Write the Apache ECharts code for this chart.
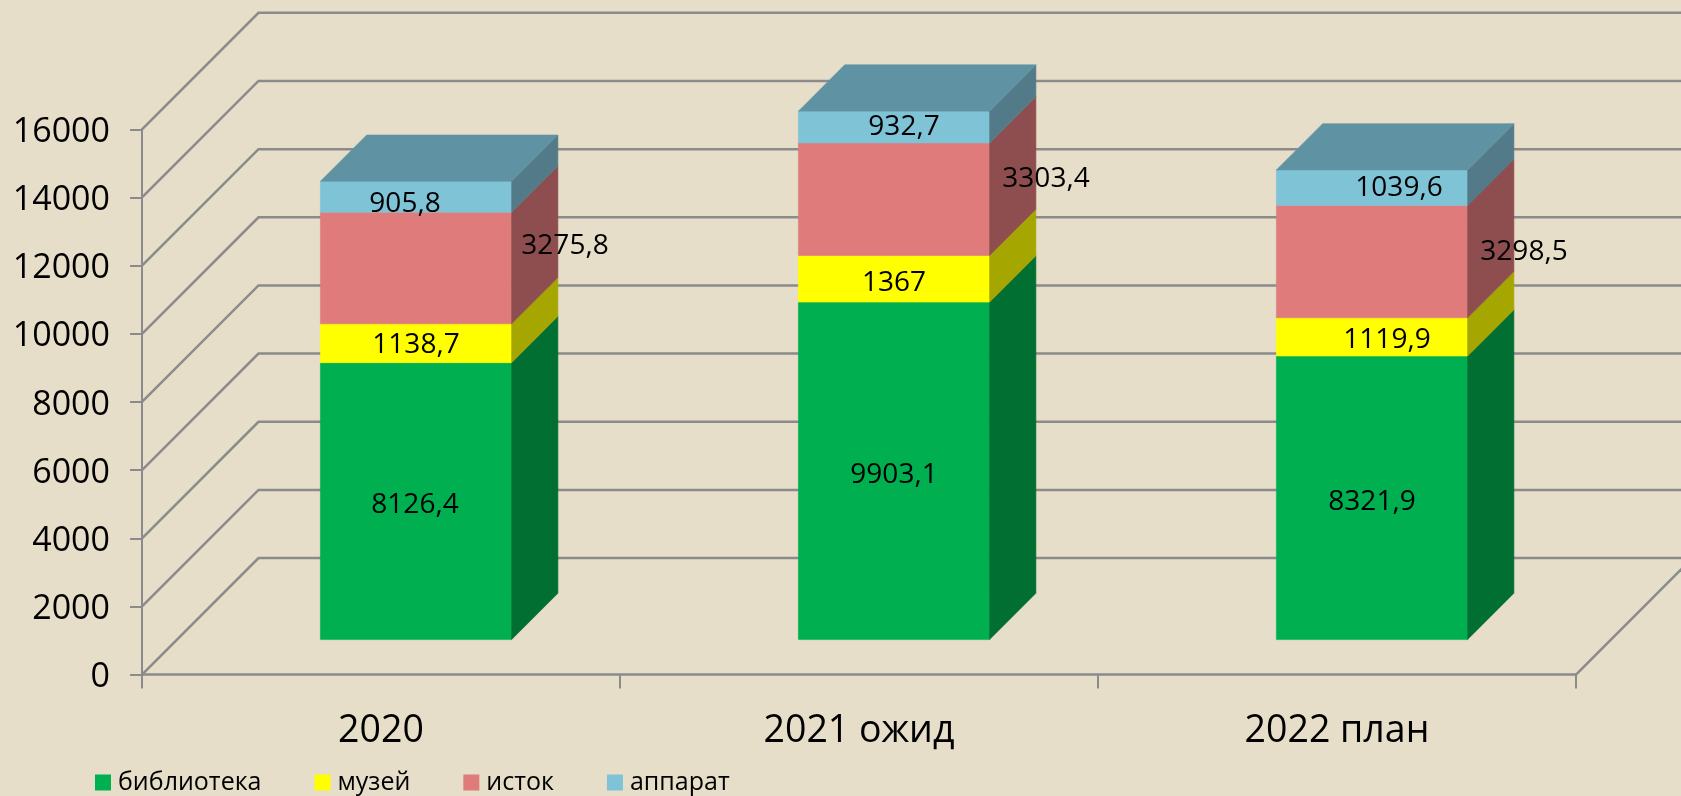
<!DOCTYPE html>
<html>
<head>
<meta charset="utf-8">
<style>
html, body { margin: 0; padding: 0; background: #e6dec8; }
#chart { width: 1681px; height: 796px; }
</style>
<script src="https://cdn.jsdelivr.net/npm/echarts@6/dist/echarts.min.js"></script>
</head>
<body>
<div id="chart"></div>
<script>
let categories = ['2020', '2021 ожид', '2022 план'];
let yTicks = [0, 2000, 4000, 6000, 8000, 10000, 12000, 14000, 16000];

let biblioteka = [8126.4, 9903.1, 8321.9];
let muzei = [1138.7, 1367, 1119.9];
let istok = [3275.8, 3303.4, 3298.5];
let apparat = [905.8, 932.7, 1039.6];

// ----------------------------------------------------
// fake 3d: everything is shifted up and right from the axis plane
const WALL_DEPTH = 116.5;
const FLOOR_GAP = 35;
const BAR_DEPTH = 46.3;
const BAR_RATIO = 0.4;
const FONT = '"Open Sans", "Noto Sans", sans-serif';
const LINE = '#8b8b8b';

// labels were moved by hand in the source chart, [dx, dy] from the face centre
const shiftBiblioteka = [[-1, 4], [0, 4], [0, 4]];
const shiftMuzei = [[0, 2], [0, 4], [15, 3]];
const shiftIstok = [[149, -22], [152, -20], [152, -10]];
const shiftApparat = [[-11, 7], [10, 0], [27, 0]];

function polygon(points, color) {
    return {
        type: 'polygon',
        shape: { points: points },
        style: { fill: color, stroke: color, lineWidth: 0.6 }
    };
}

function stackSeries(name, values, below, shifts, colors, isTop) {
    let data = values.map(function (v, i) {
        let base = 0;
        below.forEach(function (arr) { base += arr[i]; });
        return [i, base, v];
    });
    return {
        name: name,
        type: 'custom',
        itemStyle: { color: colors.front },
        encode: { x: 0, y: [1, 2] },
        data: data,
        z: 5,
        renderItem: function (params, api) {
            let i = api.value(0);
            let base = api.value(1);
            let val = api.value(2);
            let p0 = api.coord([i, base]);
            let p1 = api.coord([i, base + val]);
            let w = api.size([1, 0])[0] * BAR_RATIO;
            let l = p0[0] - w / 2 + FLOOR_GAP;
            let r = l + w;
            let b = p0[1] - FLOOR_GAP;
            let t = p1[1] - FLOOR_GAP;
            let d = BAR_DEPTH;
            let children = [
                polygon([[l, b], [r, b], [r, t], [l, t]], colors.front),
                polygon([[r, b], [r + d, b - d], [r + d, t - d], [r, t]], colors.side)
            ];
            if (isTop) {
                children.push(polygon([[l, t], [r, t], [r + d, t - d], [l + d, t - d]], colors.top));
            }
            children.push({
                type: 'text',
                z2: 50,
                style: {
                    text: String(val).replace('.', ','),
                    x: (l + r) / 2 + shifts[i][0],
                    y: (b + t) / 2 + shifts[i][1],
                    align: 'center',
                    verticalAlign: 'middle',
                    fontFamily: FONT,
                    fontSize: 28,
                    fill: '#000'
                }
            });
            return { type: 'group', children: children };
        }
    };
}

let chart = echarts.init(document.getElementById('chart'));
let option = {
    backgroundColor: '#e6dec8',
    animation: false,
    grid: { left: 142, right: 105, top: 129.3, height: 545.3 },
    legend: {
        left: 95,
        top: 770,
        icon: 'rect',
        itemWidth: 16,
        itemHeight: 16,
        itemGap: 53,
        selectedMode: false,
        padding: 0,
        data: ['библиотека', 'музей', 'исток', 'аппарат'],
        textStyle: { fontFamily: FONT, fontSize: 25, color: '#000', padding: [0, 0, 0, 2] }
    },
    xAxis: {
        type: 'category',
        data: categories,
        axisLine: { lineStyle: { color: LINE, width: 2.5 } },
        axisTick: { show: true, length: 14, lineStyle: { color: LINE, width: 2 } },
        axisLabel: { margin: 38, fontFamily: FONT, fontSize: 37.5, color: '#000' }
    },
    yAxis: {
        type: 'value',
        min: 0,
        max: 16000,
        interval: 2000,
        splitLine: { show: false },
        axisLine: { show: true, lineStyle: { color: LINE, width: 2 } },
        axisTick: { show: true, length: 12, lineStyle: { color: LINE, width: 2 } },
        axisLabel: {
            margin: 32,
            formatter: function (v) { return '{t|' + v + '}'; },
            rich: {
                t: { padding: [6, 0, 0, 0], fontFamily: FONT, fontSize: 34, color: '#000' }
            }
        }
    },
    series: [
        {
            // back wall lines and the floor edge
            type: 'custom',
            silent: true,
            z: 1,
            encode: { y: 1 },
            data: yTicks.map(function (v) { return [0, v]; }),
            renderItem: function (params, api) {
                let box = params.coordSys;
                let v = api.value(1);
                let y = api.coord([0, v])[1];
                let d = WALL_DEPTH;
                let left = box.x;
                let right = box.x + box.width;
                let children = [{
                    type: 'polyline',
                    shape: { points: [[left, y], [left + d, y - d], [right + d, y - d]] },
                    style: { fill: null, stroke: LINE, lineWidth: 2.5 }
                }];
                if (v === 0) {
                    children.push({
                        type: 'line',
                        shape: { x1: right, y1: y, x2: right + d, y2: y - d },
                        style: { stroke: LINE, lineWidth: 2.5 }
                    });
                }
                return { type: 'group', children: children };
            }
        },
        stackSeries('библиотека', biblioteka, [], shiftBiblioteka,
            { front: '#00b050', side: '#006f31' }, false),
        stackSeries('музей', muzei, [biblioteka], shiftMuzei,
            { front: '#ffff00', side: '#a6a600' }, false),
        stackSeries('исток', istok, [biblioteka, muzei], shiftIstok,
            { front: '#e07b7b', side: '#8e4e4f' }, false),
        stackSeries('аппарат', apparat, [biblioteka, muzei, istok], shiftApparat,
            { front: '#7fc3d7', side: '#527a88', top: '#5f93a3' }, true)
    ]
};
chart.setOption(option);
</script>
</body>
</html>
